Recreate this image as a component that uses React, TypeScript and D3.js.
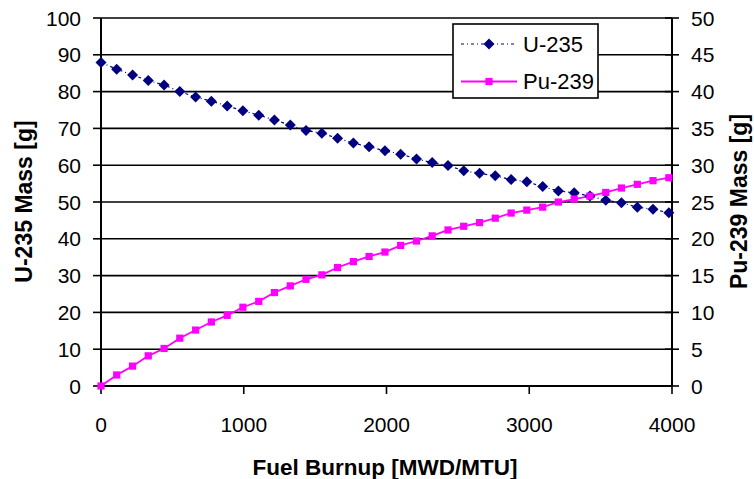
import React from "react";
import * as d3 from "d3";

const burnup = [0, 110, 221, 331, 442, 552, 663, 773, 884, 994, 1105, 1215, 1326, 1436, 1547, 1657, 1768, 1878, 1989, 2099, 2210, 2320, 2431, 2541, 2652, 2762, 2873, 2983, 3094, 3204, 3315, 3425, 3536, 3646, 3757, 3867, 3978];
const u235 = [87.9, 86.1, 84.5, 83.0, 81.8, 80.0, 78.5, 77.4, 76.1, 74.8, 73.6, 72.3, 70.9, 69.4, 68.7, 67.3, 66.0, 65.0, 63.9, 63.0, 61.7, 60.7, 59.9, 58.5, 57.8, 57.1, 56.1, 55.5, 54.2, 53.0, 52.5, 51.6, 50.5, 49.8, 48.6, 48.0, 47.1];
const pu239 = [0, 1.5, 2.7, 4.1, 5.1, 6.5, 7.6, 8.7, 9.6, 10.7, 11.5, 12.7, 13.6, 14.5, 15.1, 16.1, 16.9, 17.6, 18.2, 19.1, 19.7, 20.4, 21.2, 21.7, 22.2, 22.8, 23.5, 23.9, 24.3, 25.0, 25.4, 25.8, 26.3, 26.9, 27.4, 27.9, 28.3];
const xTicks = [0, 1000, 2000, 3000, 4000];
const leftTicks = [0, 10, 20, 30, 40, 50, 60, 70, 80, 90, 100];
const rightTicks = [0, 5, 10, 15, 20, 25, 30, 35, 40, 45, 50];
const seriesNames = ["U-235", "Pu-239"];

const W = 754, H = 479;
const L = 101, R = 672, T = 18, B = 386;
const FONT = "Liberation Sans, Arial, sans-serif";
const NAVY = "#000080";
const MAG = "#FF00FF";

export default function App() {
  const x = d3.scaleLinear().domain([0, 4000]).range([L, R]);
  const yL = d3.scaleLinear().domain([0, 100]).range([B, T]);
  const yR = d3.scaleLinear().domain([0, 50]).range([B, T]);
  const uLine = d3.line<number>().x((_, i) => x(burnup[i])).y((d) => yL(d))(u235) || "";
  const pLine = d3.line<number>().x((_, i) => x(burnup[i])).y((d) => yR(d))(pu239) || "";
  const diamond = (cx: number, cy: number, r = 5.5) => `M${cx},${cy - r}L${cx + r},${cy}L${cx},${cy + r}L${cx - r},${cy}Z`;
  const sq = 3.6;
  return (
    <svg width={W} height={H} style={{ position: "absolute", left: 0, top: 0, background: "#fff" }} fontFamily={FONT}>
      <rect x={0} y={0} width={W} height={H} fill="#fff" />
      {leftTicks.filter((t) => t > 0).map((t) => (
        <line key={"g" + t} x1={L} x2={R} y1={yL(t)} y2={yL(t)} stroke="#000" strokeWidth={1.6} />
      ))}
      {leftTicks.map((t) => (
        <g key={"lt" + t}>
          <line x1={L - 8} x2={L} y1={yL(t)} y2={yL(t)} stroke="#000" strokeWidth={1.6} />
          <text x={L - 20} y={yL(t)} dy="0.36em" textAnchor="end" fontSize={21}>{t}</text>
        </g>
      ))}
      {rightTicks.map((t) => (
        <g key={"rt" + t}>
          <line x1={R - 7} x2={R + 7} y1={yR(t)} y2={yR(t)} stroke="#000" strokeWidth={1.6} />
          <text x={R + 19} y={yR(t)} dy="0.36em" textAnchor="start" fontSize={21}>{t}</text>
        </g>
      ))}
      {xTicks.map((t) => (
        <g key={"xt" + t}>
          <line x1={x(t)} x2={x(t)} y1={B} y2={B + 8} stroke="#000" strokeWidth={1.6} />
          <text x={x(t)} y={B + 46} textAnchor="middle" fontSize={21}>{t}</text>
        </g>
      ))}
      <line x1={L} x2={L} y1={T} y2={B} stroke="#000" strokeWidth={2} />
      <line x1={R} x2={R} y1={T} y2={B} stroke="#000" strokeWidth={2} />
      <line x1={L} x2={R} y1={B} y2={B} stroke="#000" strokeWidth={2} />
      <path d={uLine} fill="none" stroke={NAVY} strokeWidth={1.2} strokeDasharray="3,3,1,3" />
      <path d={pLine} fill="none" stroke={MAG} strokeWidth={1.8} />
      {u235.map((v, i) => (
        <path key={"u" + i} d={diamond(x(burnup[i]), yL(v))} fill={NAVY} />
      ))}
      {pu239.map((v, i) => (
        <rect key={"p" + i} x={x(burnup[i]) - sq} y={yR(v) - sq} width={sq * 2} height={sq * 2} fill={MAG} />
      ))}
      <g>
        <rect x={453} y={24} width={145} height={74} fill="#fff" stroke="#000" strokeWidth={1.6} />
        <line x1={461} x2={517} y1={44} y2={44} stroke={NAVY} strokeWidth={1.2} strokeDasharray="3,3,1,3" />
        <path d={diamond(489, 44)} fill={NAVY} />
        <text x={523} y={44} dy="0.36em" fontSize={22}>{seriesNames[0]}</text>
        <line x1={461} x2={517} y1={81.5} y2={81.5} stroke={MAG} strokeWidth={1.8} />
        <rect x={489 - sq} y={81.5 - sq} width={sq * 2} height={sq * 2} fill={MAG} />
        <text x={523} y={81.5} dy="0.36em" fontSize={22}>{seriesNames[1]}</text>
      </g>
      <text x={385} y={475} textAnchor="middle" fontSize={22.5} fontWeight="bold">Fuel Burnup [MWD/MTU]</text>
      <text transform={`translate(32,201.5) rotate(-90)`} textAnchor="middle" fontSize={23} fontWeight="bold">U-235 Mass [g]</text>
      <text transform={`translate(747,201.5) rotate(-90)`} textAnchor="middle" fontSize={23} fontWeight="bold">Pu-239 Mass [g]</text>
    </svg>
  );
}
